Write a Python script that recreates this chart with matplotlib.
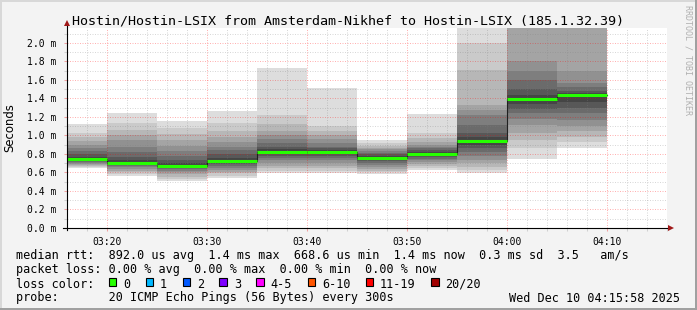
import numpy as np
import matplotlib
matplotlib.use("Agg")
import matplotlib.pyplot as plt
from matplotlib.patches import Rectangle

# ---------------- data ----------------
title = "Hostin/Hostin-LSIX from Amsterdam-Nikhef to Hostin-LSIX (185.1.32.39)"
interval_end = ["03:20", "03:25", "03:30", "03:35", "03:40", "03:45",
                "03:50", "03:55", "04:00", "04:05", "04:10"]

# 20 sorted ping RTTs (ms) per 300 s interval
pings_0320 = [0.65, 0.66, 0.67, 0.68, 0.69, 0.70, 0.71, 0.72, 0.73, 0.74,
              0.75, 0.77, 0.80, 0.83, 0.86, 0.90, 0.94, 0.98, 1.03, 1.12]
pings_0325 = [0.562, 0.58, 0.60, 0.62, 0.64, 0.66, 0.67, 0.68, 0.69, 0.70,
              0.705, 0.73, 0.77, 0.82, 0.88, 0.95, 1.00, 1.06, 1.13, 1.247]
pings_0330 = [0.508, 0.53, 0.555, 0.58, 0.60, 0.62, 0.635, 0.645, 0.655, 0.665,
              0.67, 0.70, 0.74, 0.78, 0.83, 0.89, 0.95, 1.02, 1.08, 1.157]
pings_0335 = [0.544, 0.565, 0.59, 0.61, 0.63, 0.65, 0.67, 0.69, 0.705, 0.72,
              0.73, 0.76, 0.80, 0.84, 0.88, 0.93, 0.98, 1.05, 1.13, 1.268]
pings_0340 = [0.598, 0.62, 0.645, 0.67, 0.70, 0.73, 0.76, 0.78, 0.80, 0.815,
              0.825, 0.85, 0.88, 0.92, 0.96, 1.00, 1.05, 1.12, 1.22, 1.73]
pings_0345 = [0.598, 0.62, 0.645, 0.67, 0.70, 0.73, 0.76, 0.78, 0.80, 0.815,
              0.82, 0.84, 0.86, 0.88, 0.92, 0.96, 1.00, 1.05, 1.10, 1.517]
pings_0350 = [0.58, 0.60, 0.62, 0.64, 0.66, 0.68, 0.70, 0.72, 0.735, 0.755,
              0.765, 0.78, 0.795, 0.81, 0.83, 0.85, 0.87, 0.89, 0.92, 0.951]
pings_0355 = [0.627, 0.65, 0.67, 0.69, 0.71, 0.73, 0.75, 0.77, 0.785, 0.80,
              0.805, 0.82, 0.84, 0.86, 0.88, 0.90, 0.93, 0.97, 1.03, 1.232]
pings_0400 = [0.598, 0.63, 0.66, 0.70, 0.74, 0.78, 0.82, 0.86, 0.90, 0.935,
              0.953, 0.98, 1.03, 1.11, 1.22, 1.28, 1.33, 1.71, 2.00, 2.40]
pings_0405 = [0.746, 0.86, 0.95, 1.03, 1.11, 1.18, 1.24, 1.29, 1.34, 1.39,
              1.405, 1.44, 1.50, 1.60, 1.70, 1.81, 2.30, 2.40, 2.50, 2.60]
pings_0410 = [0.868, 0.93, 0.98, 1.05, 1.10, 1.17, 1.24, 1.30, 1.36, 1.43,
              1.445, 1.46, 1.48, 1.52, 1.57, 1.70, 2.30, 2.40, 2.50, 2.60]

median_ms = [0.743, 0.70, 0.667, 0.727, 0.82, 0.818, 0.76, 0.80, 0.944, 1.398, 1.438]

y_ticks = [0.0, 0.2, 0.4, 0.6, 0.8, 1.0, 1.2, 1.4, 1.6, 1.8, 2.0]
x_tick_labels = ["03:20", "03:30", "03:40", "03:50", "04:00", "04:10"]

loss_labels = ["0", "1", "2", "3", "4-5", "6-10", "11-19", "20/20"]
loss_colors = ["#26ff00", "#00b8ff", "#0059ff", "#7e00ff",
               "#ff00ff", "#ff5500", "#ff0000", "#a00000"]

legend_rtt = "median rtt:  892.0 us avg  1.4 ms max  668.6 us min  1.4 ms now  0.3 ms sd  3.5   am/s"
legend_loss = "packet loss: 0.00 % avg  0.00 % max  0.00 % min  0.00 % now"
legend_lc = "loss color:"
legend_probe = "probe:       20 ICMP Echo Pings (56 Bytes) every 300s"
timestamp = "Wed Dec 10 04:15:58 2025"

all_pings = [pings_0320, pings_0325, pings_0330, pings_0335, pings_0340, pings_0345,
             pings_0350, pings_0355, pings_0400, pings_0405, pings_0410]


def to_min(s):
    h, m = s.split(":")
    return (int(h) - 3) * 60 + int(m)


# ---------------- figure ----------------
W, H = 697, 310
fig = plt.figure(figsize=(W / 100, H / 100), dpi=100, facecolor="#f3f3f3")


def fx(px):
    return px / W


def fy(py):
    return 1 - py / H


L, R, T, B = 67, 667, 28, 228
ax = fig.add_axes([fx(L), fy(B), fx(R) - fx(L), fy(T) - fy(B)])
ax.set_facecolor("white")

YMAX = 2.162
ax.set_xlim(16, 76)
ax.set_ylim(0, YMAX)

# smoke
step = 5
for end, pings in zip(interval_end, all_pings):
    e = to_min(end)
    s = e - step
    p = sorted(pings)
    half = len(p) // 2
    for i in range(half):
        ibot = i + 1
        g = int(190 / half * (half - ibot)) + 50
        ax.bar(s, p[-1 - i] - p[i], bottom=p[i], width=step, align="edge",
               color="#%02x%02x%02x" % (g, g, g), linewidth=0, zorder=1)

# median: dark step line + green loss-colour band
starts = [to_min(e) - step for e in interval_end]
ends = [to_min(e) for e in interval_end]
ax.step(starts + [ends[-1]], median_ms + [median_ms[-1]], where="post",
        color="#202020", lw=0.8, zorder=3)
ax.hlines(median_ms, starts, ends, color=loss_colors[0], lw=2.2, zorder=4)

# ticks & grid
ax.set_xticks([to_min(t) for t in x_tick_labels])
ax.set_xticklabels(x_tick_labels)
ax.set_xticks(np.arange(16, 77, 2), minor=True)
ax.set_yticks(y_ticks)
ax.set_yticklabels(["%.1f m" % v for v in y_ticks])
ax.set_yticks(np.arange(0.1, YMAX, 0.2), minor=True)

ax.set_axisbelow(False)
ax.grid(which="major", color="#ff0000", alpha=0.3, linestyle=(0, (1, 1.5)), lw=0.72)
ax.grid(which="minor", color="#808080", alpha=0.3, linestyle=(0, (1, 1.5)), lw=0.72)

mono = "DejaVu Sans Mono"
ax.tick_params(which="major", length=2.5, width=0.75, color="#f0a0a0",
               labelsize=7, pad=4.3)
ax.tick_params(which="minor", length=2.5, width=0.75, color="#d0d0d0")
ax.tick_params(axis="y", which="major", pad=5)
for lab in ax.get_xticklabels() + ax.get_yticklabels():
    lab.set_fontfamily(mono)
    lab.set_color("#000000")

for sp in ax.spines.values():
    sp.set_visible(False)

# axis lines with arrows
ax.plot([0, 0], [-0.012, 1.018], transform=ax.transAxes, color="black",
        lw=0.8, clip_on=False, zorder=6)
ax.plot([-0.006, 1.003], [0, 0], transform=ax.transAxes, color="black",
        lw=0.8, clip_on=False, zorder=6)
ax.plot([0], [1.027], marker="^", ms=4.5, color="#a01818", transform=ax.transAxes,
        clip_on=False, zorder=7, mew=0)
ax.plot([1.007], [0], marker=">", ms=4.5, color="#a01818", transform=ax.transAxes,
        clip_on=False, zorder=7, mew=0)

# y-label
fig.text(fx(10), fy(128), "Seconds", rotation=90, ha="center", va="center",
         fontsize=8.4, family="DejaVu Sans", color="black")

# title
fig.text(fx(348.5), fy(19), title, ha="center", va="center_baseline",
         fontsize=9.6, family=mono, color="black")

# watermark
fig.text(fx(688), fy(5), "RRDTOOL / TOBI OETIKER", rotation=-90, ha="center", va="top",
         fontsize=6, family=mono, color="#b0b0b0")

# legend block
LX = 16
fig.text(fx(LX), fy(254.5), legend_rtt, ha="left", va="center_baseline",
         fontsize=8.5, family=mono, color="black")
fig.text(fx(LX), fy(268.5), legend_loss, ha="left", va="center_baseline",
         fontsize=8.5, family=mono, color="black")
fig.text(fx(LX), fy(282.5), legend_lc, ha="left", va="center_baseline",
         fontsize=8.5, family=mono, color="black")
fig.text(fx(LX), fy(296.5), legend_probe, ha="left", va="center_baseline",
         fontsize=8.5, family=mono, color="black")
fig.text(fx(680), fy(296.5), timestamp, ha="right", va="center_baseline",
         fontsize=8.5, family=mono, color="black")

cw = 7.1
bx = 108.7
for lab, col in zip(loss_labels, loss_colors):
    fig.patches.append(Rectangle((fx(bx), fy(286)), fx(7.5), 8 / H, facecolor=col,
                                 edgecolor="black", lw=0.8, transform=fig.transFigure,
                                 figure=fig))
    fig.text(fx(bx + 14.3), fy(282.5), lab, ha="left", va="center_baseline",
             fontsize=8.5, family=mono, color="black")
    bx += cw * (2 + len(lab) + 2.2)

# border
fig.patches.append(Rectangle((0, fy(2)), 1, 2 / H, facecolor="#d8d8d8", lw=0,
                             transform=fig.transFigure, figure=fig))
fig.patches.append(Rectangle((0, 0), fx(2), 1, facecolor="#d8d8d8", lw=0,
                             transform=fig.transFigure, figure=fig))
fig.patches.append(Rectangle((0, 0), 1, 2 / H, facecolor="#a0a0a0", lw=0,
                             transform=fig.transFigure, figure=fig))
fig.patches.append(Rectangle((fx(695), 0), fx(2), 1, facecolor="#a0a0a0", lw=0,
                             transform=fig.transFigure, figure=fig))

fig.savefig("out.png", dpi=100, facecolor=fig.get_facecolor())
